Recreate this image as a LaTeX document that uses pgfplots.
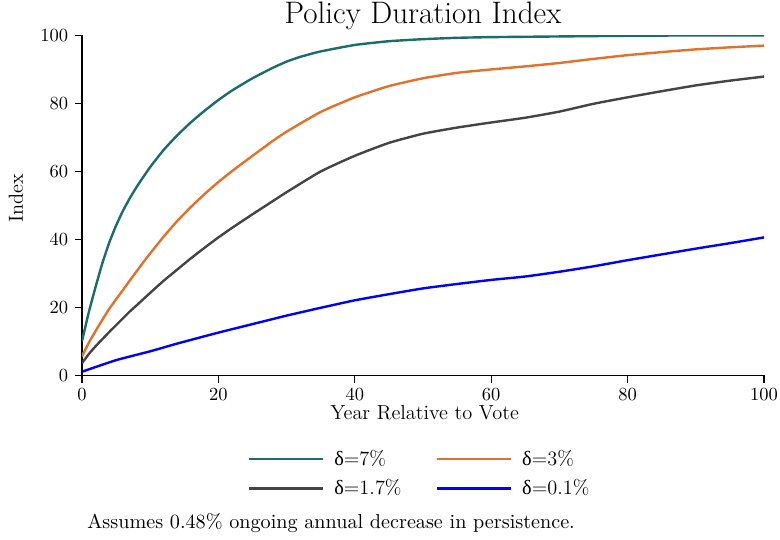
\documentclass[border=0pt]{standalone}
\usepackage{fontspec}
\usepackage{pgfplots}
\usepackage{pgfplotstable}
\pgfplotsset{compat=1.18}
\newfontfamily\grk{Liberation Serif}
\definecolor{cteal}{HTML}{1B6C6C}
\definecolor{corange}{HTML}{E2722A}
\definecolor{cgray}{HTML}{444444}
\definecolor{cblue}{HTML}{0000FF}

\pgfplotstableread{
x y
0 10
1 18.5
2 26
3 33
4 39
5 44
6 48.3
7 52
8 55.3
9 58.3
10 61.2
12 66.3
14 70.6
16 74.4
18 77.8
20 80.9
22 83.7
25 87.3
28 90.4
30 92.2
32 93.6
35 95.2
40 97.1
45 98.2
50 98.8
55 99.2
60 99.4
70 99.6
80 99.8
90 99.9
100 99.9
}\tseven

\pgfplotstableread{
x y
0 5.5
1 9.5
2 13
3 16.3
4 19.5
5 22.3
6 25
7 27.8
8 30.5
9 33.2
10 35.8
12 40.8
14 45.4
16 49.5
18 53.3
20 56.8
22 60
25 64.5
28 68.9
30 71.6
35 77.4
40 81.7
45 85
50 87.3
55 88.9
60 89.9
65 90.8
70 91.8
75 93
80 94.1
85 95
90 95.8
95 96.4
100 96.9
}\tthree

\pgfplotstableread{
x y
0 3.5
1 6.2
2 8.5
3 10.6
4 12.7
5 14.7
6 16.7
7 18.7
8 20.5
10 24.2
12 27.8
14 31.1
16 34.4
18 37.5
20 40.5
22 43.3
25 47.3
28 51.2
30 53.8
35 59.9
40 64.5
45 68.3
50 71
55 72.8
60 74.3
65 75.7
70 77.5
75 79.8
80 81.7
85 83.5
90 85.2
95 86.6
100 87.8
}\tonesev

\pgfplotstableread{
x y
0 1
5 4.4
10 7
14 9.3
20 12.5
25 15
28 16.5
30 17.5
35 19.8
40 22
45 23.8
50 25.5
55 26.8
60 28
65 29
70 30.4
75 32
80 33.8
85 35.5
90 37.2
95 38.8
100 40.5
}\tpointone

\begin{document}
\begin{tikzpicture}
\useasboundingbox (0,0) rectangle (421.6pt,291.4pt);
\begin{axis}[
  at={(44.32pt,88.65pt)}, anchor=south west,
  scale only axis,
  width=368.65pt, height=183.78pt,
  xmin=0, xmax=100, ymin=0, ymax=100,
  axis x line*=bottom, axis y line*=left,
  tick align=outside,
  major tick length=4pt,
  xtick={0,20,40,60,80,100},
  ytick={0,20,40,60,80,100},
  tick style={black, line width=0.6pt},
  axis line style={black, line width=0.6pt},
  legend columns=2,
  legend style={at={(axis description cs:0.4965,-0.198)}, anchor=north, draw=none, fill=none,
    font=\fontsize{11}{13}\selectfont,
    /tikz/every odd column/.append style={column sep=3.3pt},
    /tikz/every even column/.append style={column sep=16.6pt},
    row sep=2pt},
  legend cell align=left,
  legend image code/.code={\draw[#1, line width=1.3pt] (0pt,0pt) -- (40pt,0pt);},
  every axis plot/.append style={line width=1.3pt},
]
\addplot[cteal, smooth, tension=0.3] table {\tseven};
\addlegendentry{{\grk δ}=7\%}
\addplot[corange, smooth, tension=0.3] table {\tthree};
\addlegendentry{{\grk δ}=3\%}
\addplot[cgray, smooth, tension=0.3] table {\tonesev};
\addlegendentry{{\grk δ}=1.7\%}
\addplot[cblue, smooth, tension=0.3] table {\tpointone};
\addlegendentry{{\grk δ}=0.1\%}
\end{axis}
\node[anchor=base] at (228.65pt,278.9pt) {\fontsize{16.8}{20}\selectfont Policy Duration Index};
\node[anchor=base, rotate=90] at (12.4pt,184.3pt) {\fontsize{11}{13}\selectfont Index};
\node[anchor=base] at (229.5pt,64.9pt) {\fontsize{11}{13}\selectfont Year Relative to Vote};
\node[anchor=base west, inner sep=0pt] at (47pt,5.9pt) {\fontsize{10.9}{13}\selectfont Assumes 0.48\% ongoing annual decrease in persistence.};
\end{tikzpicture}
\end{document}
